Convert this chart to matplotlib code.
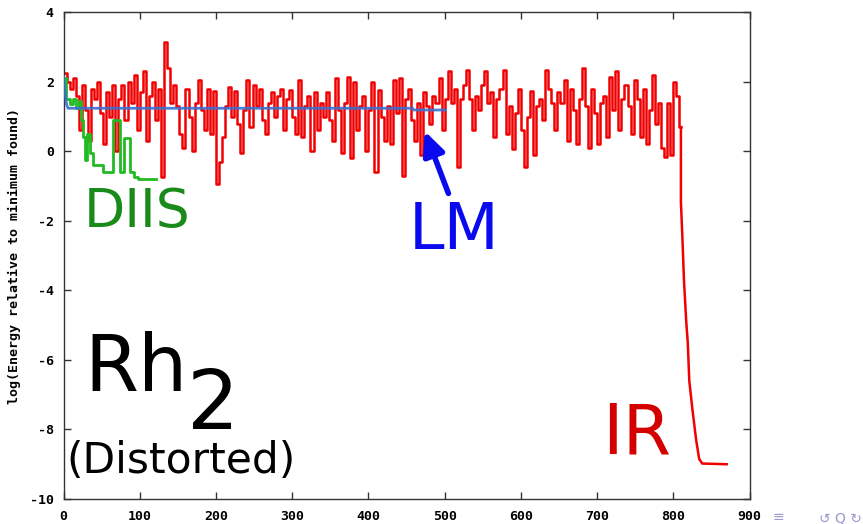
import numpy as np
import matplotlib
matplotlib.use("Agg")
import matplotlib.pyplot as plt

# IR run: energy sampled every 4 iterations on the plateau (iterations 0..808)
ir_plateau = [
    2.25, 2.0, 1.8, 2.1, 1.6, 0.6, 1.9, 1.2, 0.3, 1.8, 1.5, 2.0, 1.1, 0.2, 1.7, 1.0,
    1.9, 0.0, 1.5, 1.9, 0.9, 2.0, 1.4, 2.2, 0.6, 1.7, 2.3, 0.3, 1.6, 2.0, 0.9, 1.8,
    -0.75, 3.15, 2.4, 1.4, 1.9,
    1.3, 0.5, 0.1, 1.8, 1.0, 0.0, 1.4, 2.05, 1.2, 0.6, 1.8, 0.5, 1.75, -0.93, -0.3,
    0.4, 1.3, 1.85, 1.0, 1.75, 0.8, -0.06, 1.2, 2.05, 0.7, 1.9, 1.3, 1.8, 0.9, 0.5,
    1.4, 1.7, 1.0, 1.6, 1.8, 0.6, 1.5,
    1.76, 1.0, 0.5, 2.05, 0.4, 1.3, 1.6, 0.0, 1.7, 0.6, 1.4, 1.0, 1.7, 0.9, 0.3, 2.1,
    1.2, -0.05, 1.4, 2.15, -0.18, 2.0, 0.6, 1.3, 1.6, 0.0, 1.2, 2.0, -0.6, 1.76, 1.0,
    0.3, 1.3, 0.2, 2.05, 1.1, 2.1,
    -0.7, 1.5, 1.8, 0.9, 0.3, 1.4, -0.1, 1.7, 1.3, 0.8, 1.6, 1.4, 2.1, 0.6, 1.5, 2.3,
    1.4, 1.8, -0.45, 1.5, 1.9, 2.35, 1.5, 0.6, 1.6, 1.2, 1.9, 2.3, 1.4, 1.7, 0.4, 1.5,
    1.8, 2.35, 0.5, 1.3,
    0.07, 1.1, 1.8, 0.6, -0.45, 1.0, 1.75, -0.1, 1.3, 1.5, 0.9, 2.35, 1.8, 1.4, 0.6,
    1.7, 1.4, 2.05, 0.3, 1.8, 1.2, 0.2, 1.5, 2.4, 1.3, 0.1, 1.8, 1.1, 0.2, 1.4, 1.6,
    0.4, 2.15, 1.2, 2.3, 0.6, 1.5,
    1.9, 1.3, 0.5, 2.05, 1.5, 0.4, 1.8, 0.2, 1.2, 2.2, 0.8, 1.4, 0.1, -0.17, 1.4, -0.1,
    2.0, 1.6, 0.7,
]
ir_plateau_iter = np.arange(len(ir_plateau)) * 4

# IR run: final collapse to the minimum
ir_tail_iter = [810, 812, 814, 817, 819, 821, 825, 830, 834, 838, 870]
ir_tail = [-1.45, -2.5, -3.7, -4.9, -5.5, -6.6, -7.4, -8.3, -8.85, -8.98, -9.0]

# DIIS run
diis_iter = [0, 3, 8, 12, 17, 20, 23, 26, 28, 31, 35, 39, 52, 65, 74, 80, 87, 93, 98, 122]
diis_energy = [2.1, 1.5, 1.35, 1.5, 1.25, 1.45, 0.9, 0.4, -0.25, 0.5, -0.06, -0.4,
               -0.6, 0.9, -0.6, 0.37, -0.6, -0.75, -0.8, -0.8]

# LM run
lm_iter = [0, 2, 4, 6, 458, 459, 501]
lm_energy = [2.14, 1.7, 1.35, 1.24, 1.24, 1.19, 1.19]

x_ticks = [0, 100, 200, 300, 400, 500, 600, 700, 800, 900]
y_ticks = [-10, -8, -6, -4, -2, 0, 2, 4]

W, H = 863, 524
fig = plt.figure(figsize=(W / 100, H / 100), dpi=100)
ax = fig.add_axes([63.5 / W, 1 - 499 / H, (749.5 - 63.5) / W, (499 - 12.3) / H])

red = "#f00000"
# noisy plateau drawn as steps, held until the collapse starts
plat_x = np.append(ir_plateau_iter, ir_tail_iter[0])
plat_y = np.append(ir_plateau, ir_plateau[-1])
ax.plot(plat_x, plat_y, color=red, lw=1.8, drawstyle="steps-post", zorder=2)
# collapse to the minimum
tail_x = np.concatenate([[ir_tail_iter[0]], ir_tail_iter])
tail_y = np.concatenate([[ir_plateau[-1]], ir_tail])
ax.plot(tail_x, tail_y, color=red, lw=1.8, zorder=2)

ax.plot(diis_iter, diis_energy, color="#22bb22", lw=2.0, drawstyle="steps-post", zorder=3)
ax.plot(lm_iter, lm_energy, color="#3a6fd0", lw=2.0, alpha=0.9, zorder=4)

ax.set_xlim(0, 900)
ax.set_ylim(-10, 4)
ax.set_xticks(x_ticks)
ax.set_yticks(y_ticks)
tick_font = dict(family="DejaVu Sans Mono", weight="bold", size=9.5)
ax.set_xticklabels([str(v) for v in x_ticks], **tick_font)
ax.set_yticklabels([str(v) for v in y_ticks], **tick_font)
ax.tick_params(direction="in", length=5, width=1, top=True, right=True, color="#333333")
ax.tick_params(axis="x", pad=8)
ax.tick_params(axis="y", pad=7)
for s in ax.spines.values():
    s.set_color("#333333")
    s.set_linewidth(1.0)
ax.set_ylabel("log(Energy relative to minimum found)", family="DejaVu Sans Mono",
              weight="bold", size=9.5, labelpad=6)

# run labels
ax.text(27, -2.19, "DIIS", color="#1a8a1a", fontsize=38.5, family="DejaVu Sans")
ax.text(453, -2.8, "LM", color="#0a0aee", fontsize=46, family="DejaVu Sans")
ax.text(706, -8.7, "IR", color="#d40000", fontsize=50, family="DejaVu Sans")
ax.annotate("", xy=(474, 0.58), xytext=(505, -1.21),
            arrowprops=dict(arrowstyle="-|>,head_length=1.4,head_width=0.65",
                            color="#0a0aee", lw=4.0, shrinkA=0, shrinkB=0))

# system label
ax.text(28, -6.89, "Rh", color="black", fontsize=56, family="DejaVu Sans")
ax.text(162, -7.98, "2", color="black", fontsize=59, family="DejaVu Sans")
ax.text(4, -9.25, "(Distorted)", color="black", fontsize=30.5, family="DejaVu Sans")

# navigation glyphs in the page corner
nav = "#9a9ad0"
fig.text(778 / W, 1 - 517 / H, "\u2261", color=nav, fontsize=10, ha="center", va="center")
fig.text(840 / W, 1 - 518 / H, "\u21ba Q \u21bb", color=nav, fontsize=10, ha="center", va="center")

fig.savefig("out.png", dpi=100)
